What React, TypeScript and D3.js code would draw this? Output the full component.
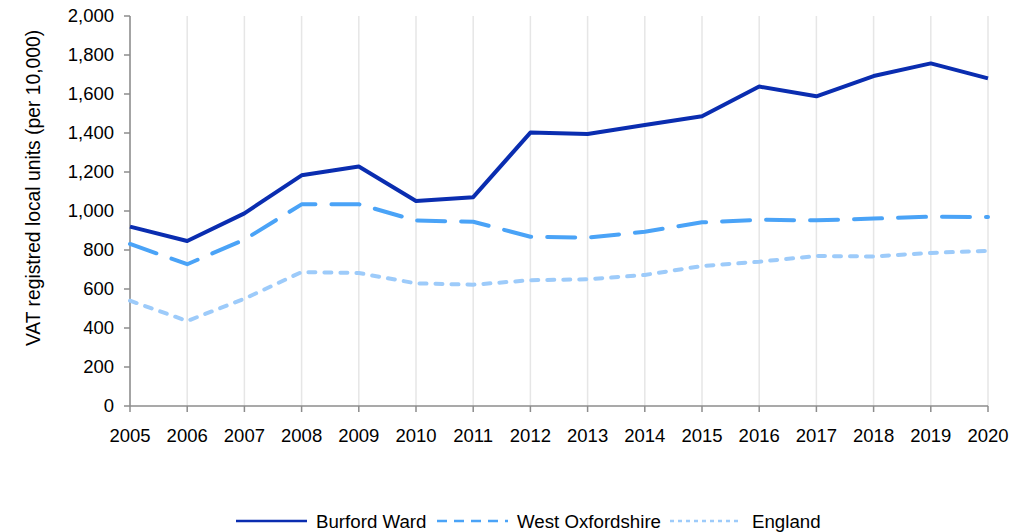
import React from "react";
import * as d3 from "d3";

const years = [2005, 2006, 2007, 2008, 2009, 2010, 2011, 2012, 2013, 2014, 2015, 2016, 2017, 2018, 2019, 2020];
const burfordWard = [920, 846, 988, 1183, 1228, 1051, 1071, 1402, 1395, 1441, 1486, 1638, 1588, 1692, 1757, 1680];
const westOxfordshire = [831, 727, 853, 1034, 1035, 951, 945, 868, 863, 894, 942, 955, 952, 961, 971, 969];
const england = [540, 436, 550, 687, 682, 629, 622, 645, 650, 672, 718, 740, 769, 767, 785, 796];
const yTicks = [0, 200, 400, 600, 800, 1000, 1200, 1400, 1600, 1800, 2000];
const yLabel = "VAT registred local units (per 10,000)";

const seriesDefs = [
  { name: "Burford Ward", values: burfordWard, color: "#0a2db0", dash: "none", legendDash: "none" },
  { name: "West Oxfordshire", values: westOxfordshire, color: "#4aa3f7", dash: "28,16", legendDash: "10,7" },
  { name: "England", values: england, color: "#9dcbfa", dash: "7,9", legendDash: "4,4" },
];

const W = 1027;
const H = 532;
const margin = { left: 130, right: 39, top: 16, bottom: 126 };
const font = "Arial, 'Liberation Sans', sans-serif";

export default function App() {
  const x = d3.scaleLinear().domain([2005, 2020]).range([margin.left, W - margin.right]);
  const y = d3.scaleLinear().domain([0, 2000]).range([H - margin.bottom, margin.top]);
  const line = d3
    .line<number>()
    .x((_, i) => x(years[i]))
    .y((d) => y(d));
  const fmt = d3.format(",");
  const y0 = y(0);

  const legendItems = [
    { lx: 236, tx: 316 },
    { lx: 437, tx: 517 },
    { lx: 670, tx: 752 },
  ];

  return (
    <svg
      width={W}
      height={H}
      style={{ position: "absolute", left: 0, top: 0, background: "#fff" }}
      fontFamily={font}
    >
      {years.map((yr) => (
        <line key={"g" + yr} x1={x(yr)} x2={x(yr)} y1={y(2000)} y2={y0} stroke="#e6e6e6" strokeWidth={1.5} />
      ))}
      <line x1={x(2005)} x2={x(2005)} y1={y(2000)} y2={y0} stroke="#8c8c8c" strokeWidth={1.5} />
      <line x1={x(2005)} x2={x(2020)} y1={y0} y2={y0} stroke="#8c8c8c" strokeWidth={1.5} />
      {yTicks.map((t) => (
        <g key={"y" + t}>
          <line x1={x(2005) - 6} x2={x(2005)} y1={y(t)} y2={y(t)} stroke="#8c8c8c" strokeWidth={1.5} />
          <text x={114} y={y(t)} dy="0.35em" textAnchor="end" fontSize={18.5} fill="#000">
            {fmt(t)}
          </text>
        </g>
      ))}
      {years.map((yr) => (
        <g key={"x" + yr}>
          <line x1={x(yr)} x2={x(yr)} y1={y0} y2={y0 + 6} stroke="#8c8c8c" strokeWidth={1.5} />
          <text x={x(yr)} y={442} textAnchor="middle" fontSize={18.5} fill="#000">
            {yr}
          </text>
        </g>
      ))}
      <text
        transform={`translate(40, 188) rotate(-90)`}
        textAnchor="middle"
        fontSize={19.3}
        fill="#000"
      >
        {yLabel}
      </text>
      {seriesDefs.map((s) => (
        <path
          key={s.name}
          d={line(s.values) || ""}
          fill="none"
          stroke={s.color}
          strokeWidth={4}
          strokeDasharray={s.dash}
          strokeLinecap={s.dash === "none" ? "butt" : "round"}
          strokeLinejoin="round"
        />
      ))}
      {seriesDefs.map((s, i) => (
        <g key={"l" + s.name}>
          <line
            x1={legendItems[i].lx}
            x2={legendItems[i].lx + 71}
            y1={521}
            y2={521}
            stroke={s.color}
            strokeWidth={2.5}
            strokeDasharray={s.legendDash}
          />
          <text x={legendItems[i].tx} y={521} dy="0.35em" fontSize={18.7} fill="#000">
            {s.name}
          </text>
        </g>
      ))}
    </svg>
  );
}
